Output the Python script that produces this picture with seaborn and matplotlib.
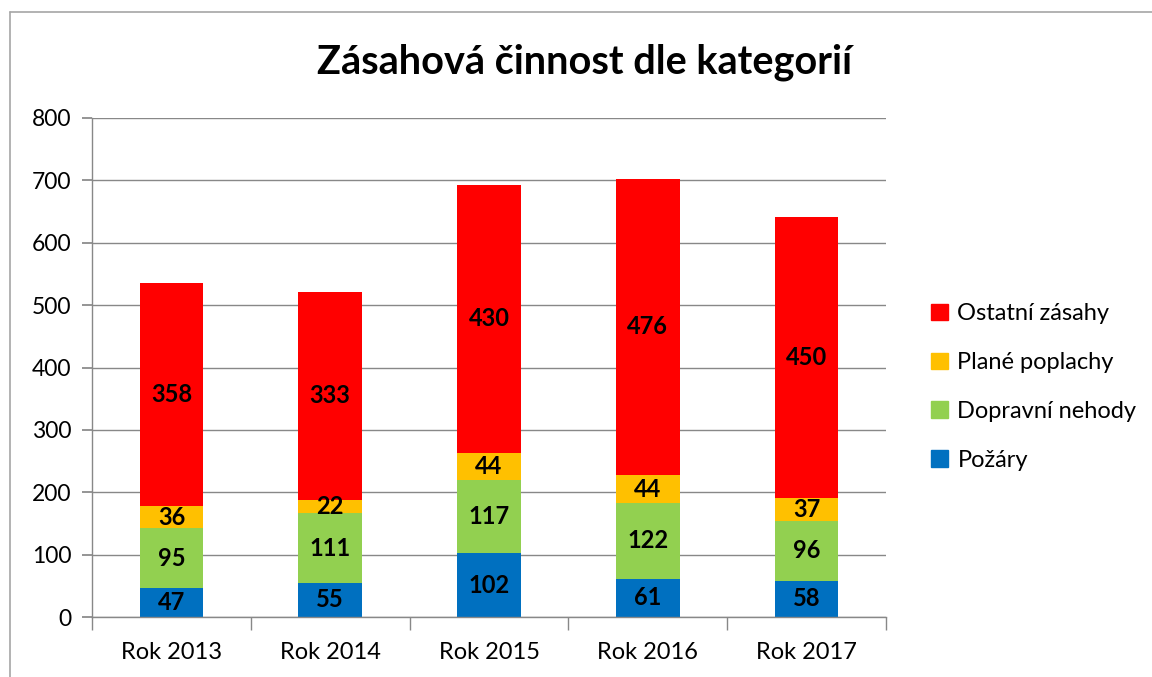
import matplotlib
matplotlib.use("Agg")
import matplotlib.pyplot as plt
import seaborn as sns
import numpy as np
import pandas as pd
from matplotlib.lines import Line2D
from matplotlib.patches import Patch

years = ["Rok 2013", "Rok 2014", "Rok 2015", "Rok 2016", "Rok 2017"]
series_names = ["Požáry", "Dopravní nehody", "Plané poplachy", "Ostatní zásahy"]
pozary = [47, 55, 102, 61, 58]
dopravni = [95, 111, 117, 122, 96]
plane = [36, 22, 44, 44, 37]
ostatni = [358, 333, 430, 476, 450]
colors = ["#0070C0", "#92D050", "#FFC000", "#FF0000"]

sns.set_theme(style="white")
plt.rcParams['font.family'] = ['Lato', 'DejaVu Sans']
plt.rcParams['text.color'] = 'black'
plt.rcParams['xtick.labelcolor'] = 'black'
plt.rcParams['ytick.labelcolor'] = 'black'

fig = plt.figure(figsize=(11.52, 6.77), dpi=100)
ax = fig.add_axes([92/1152, 1-617/677, (886-92)/1152, (617-118)/677])

data = [pozary, dopravni, plane, ostatni]
bottom = np.zeros(len(years))
for name, vals, col in zip(series_names, data, colors):
    df = pd.DataFrame({"rok": years, "v": vals})
    sns.barplot(data=df, x="rok", y="v", order=years, color=col, width=0.4,
                bottom=bottom, ax=ax, saturation=1, linewidth=0, edgecolor=col)
    for i, v in enumerate(vals):
        ax.text(i, bottom[i] + v/2, str(v), ha="center", va="center",
                fontsize=17, fontweight="bold", color="black")
    bottom = bottom + np.array(vals)

ax.set_ylim(0, 800)
ax.set_xlim(-0.5, 4.5)
ax.set_yticks(range(0, 801, 100))
ax.set_xlabel("")
ax.set_ylabel("")
ax.yaxis.grid(True, color="#888888", linewidth=1)
ax.set_axisbelow(True)
for s in ["top", "right"]:
    ax.spines[s].set_visible(False)
for s in ["left", "bottom"]:
    ax.spines[s].set_color("#888888")
    ax.spines[s].set_linewidth(1)
ax.tick_params(axis="y", labelsize=16.5, length=7, color="#888888", left=True, pad=8,
               labelcolor="black")
ax.tick_params(axis="x", labelsize=17, length=0, pad=18, labelcolor="black")
ax.set_xticks(np.arange(-0.5, 5, 1), minor=True)
ax.tick_params(axis="x", which="minor", length=9, color="#888888", bottom=True)

fig.text(585/1152, 1-62/677, "Zásahová činnost dle kategorií", ha="center", va="center",
         fontsize=28.5, fontweight="bold", color="black")

handles = [Patch(facecolor=c, edgecolor=c) for c in colors][::-1]
labels = series_names[::-1]
fig.legend(handles, labels, loc="center left", bbox_to_anchor=(922/1152, 1-387/677),
           frameon=False, fontsize=17, handlelength=0.7, handleheight=0.7,
           handletextpad=0.4, labelspacing=1.18, borderaxespad=0)

fig.add_artist(Line2D([10/1152, 1], [1-12/677, 1-12/677], color="#A6A6A6", linewidth=1.2,
                      transform=fig.transFigure))
fig.add_artist(Line2D([10/1152, 10/1152], [0, 1-12/677], color="#A6A6A6", linewidth=1.2,
                      transform=fig.transFigure))

fig.savefig("out.png", dpi=100)
